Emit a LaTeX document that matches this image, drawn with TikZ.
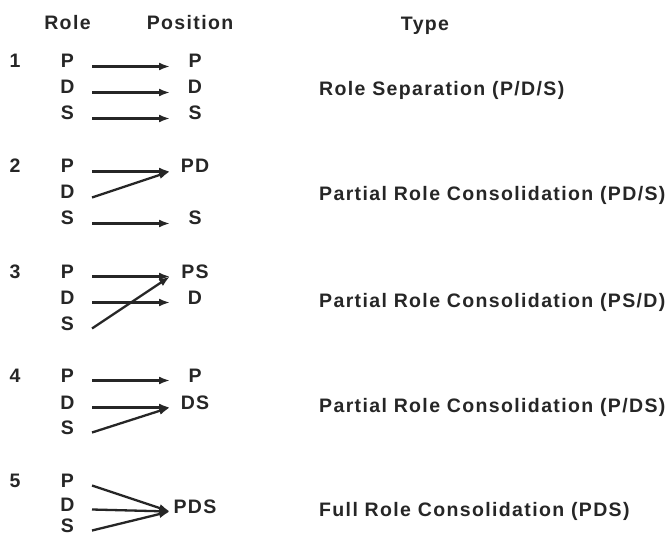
\documentclass[tikz,border=0pt]{standalone}
\usepackage{fontspec}
\setmainfont{Liberation Sans Bold}[LetterSpace=7]
\usetikzlibrary{calc,arrows.meta}
\definecolor{ink}{HTML}{262626}
\newcommand\myconn[2]{\draw[arr] ($(#1.base)+(24.5,-1.5)$) -- ($(#2.base)+(-25,-1.5)$);}
\begin{document}
\begin{tikzpicture}[x=1pt,y=-1pt,
  every node/.style={inner sep=0pt,anchor=base,text=ink,font=\fontsize{19.5}{22}\selectfont},
  typ/.style={anchor=base west},
  arr/.style={draw=ink,line width=2.3pt,-{Latex[length=11pt,width=8pt]}}]
\fill[white] (0,0) rectangle (671,537);
\useasboundingbox (0,0) rectangle (671,537);
% headers
\node (hrole) at (67.5,30) {Role};
\node (hpos) at (190,30) {Position};
\node (htype) at (425,31) {Type};
% row 1
\node (n1) at (15,68) {1};
\node (l1p) at (67.5,68) {P};
\node (l1d) at (67.5,94) {D};
\node (l1s) at (67.5,120) {S};
\node (r1p) at (195,68) {P};
\node (r1d) at (195,94) {D};
\node (r1s) at (195,120) {S};
\node[typ] (t1) at (319,96) {Role Separation (P/D/S)};
\myconn{l1p}{r1p}
\myconn{l1d}{r1d}
\myconn{l1s}{r1s}
% row 2
\node (n2) at (15,173) {2};
\node (l2p) at (67.5,173) {P};
\node (l2d) at (67.5,199) {D};
\node (l2s) at (67.5,225) {S};
\node (r2pd) at (195,173) {PD};
\node (r2s) at (195,225) {S};
\node[typ] (t2) at (319,201) {Partial Role Consolidation (PD/S)};
\myconn{l2p}{r2pd}
\myconn{l2d}{r2pd}
\myconn{l2s}{r2s}
% row 3
\node (n3) at (15,278) {3};
\node (l3p) at (67.5,278) {P};
\node (l3d) at (67.5,304) {D};
\node (l3s) at (67.5,330) {S};
\node (r3ps) at (195,278) {PS};
\node (r3d) at (195,304) {D};
\node[typ] (t3) at (319,307) {Partial Role Consolidation (PS/D)};
\myconn{l3p}{r3ps}
\myconn{l3d}{r3d}
\myconn{l3s}{r3ps}
% row 4
\node (n4) at (15,382) {4};
\node (l4p) at (67.5,382) {P};
\node (l4d) at (67.5,409) {D};
\node (l4s) at (67.5,434) {S};
\node (r4p) at (195,382) {P};
\node (r4ds) at (195,409) {DS};
\node[typ] (t4) at (319,412) {Partial Role Consolidation (P/DS)};
\myconn{l4p}{r4p}
\myconn{l4d}{r4ds}
\myconn{l4s}{r4ds}
% row 5
\node (n5) at (15,487) {5};
\node (l5p) at (67.5,487) {P};
\node (l5d) at (67.5,511) {D};
\node (l5s) at (67.5,532) {S};
\node (r5pds) at (195,513) {PDS};
\node[typ] (t5) at (319,516) {Full Role Consolidation (PDS)};
\myconn{l5p}{r5pds}
\myconn{l5d}{r5pds}
\myconn{l5s}{r5pds}
\end{tikzpicture}
\end{document}
